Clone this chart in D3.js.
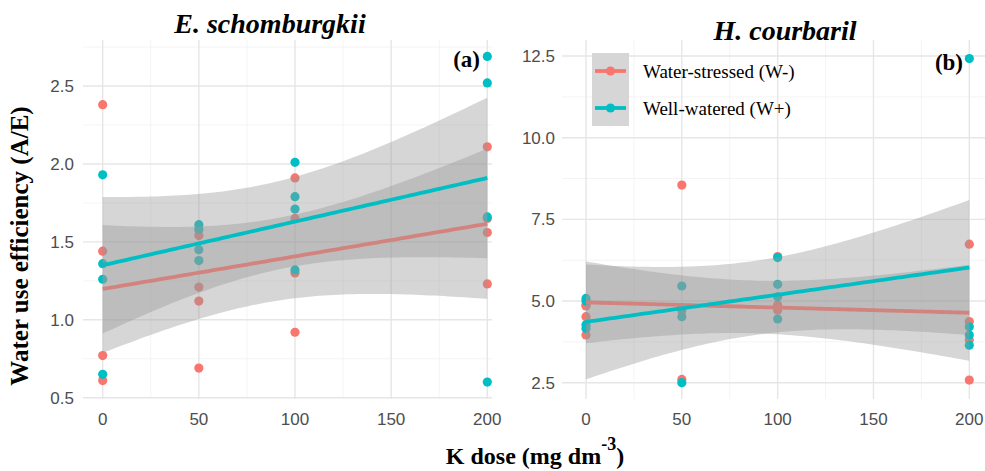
<!DOCTYPE html>
<html>
<head>
<meta charset="utf-8">
<script src="https://cdn.jsdelivr.net/npm/d3@7"></script>
<style>
  body { margin: 0; background: #fff; }
  svg { display: block; }
</style>
</head>
<body>
<svg id="chart" width="985" height="471"></svg>
<script>
// K doses applied (mg dm-3) and axis ticks
const doses = [0, 50, 100, 200];
const xTicks = [0, 50, 100, 150, 200];
const seriesNames = ["Water-stressed (W-)", "Well-watered (W+)"];
const seriesColors = ["#F8766D", "#00BFC4"];

// Water use efficiency (A/E), four plants per dose
const eschWminus = [[2.38, 1.44, 0.77, 0.61], [1.54, 1.21, 1.12, 0.69], [1.91, 1.65, 1.30, 0.92], [2.11, 1.65, 1.56, 1.23]];
const eschWplus  = [[1.93, 1.36, 1.26, 0.65], [1.61, 1.58, 1.45, 1.38], [2.01, 1.79, 1.71, 1.32], [2.69, 2.52, 1.66, 0.60]];
const hymWminus  = [[4.88, 4.85, 4.52, 3.96], [8.55, 4.80, 4.70, 2.60], [6.36, 4.88, 4.80, 4.72], [6.74, 4.37, 3.81, 2.58]];
const hymWplus   = [[5.08, 5.00, 4.27, 4.16], [5.46, 4.78, 4.52, 2.50], [6.33, 5.51, 5.13, 4.45], [12.42, 4.21, 3.96, 3.65]];

const eschYTicks = [0.5, 1.0, 1.5, 2.0, 2.5];
const hymYTicks = [2.5, 5.0, 7.5, 10.0, 12.5];

const svg = d3.select("#chart");
const serif = "'Liberation Serif', 'Times New Roman', serif";
const sans = "'Liberation Sans', Arial, sans-serif";

// flatten nested dose groups into {x, y} points
function toPoints(groups) {
  const pts = [];
  groups.forEach((vals, i) => vals.forEach(v => pts.push({ x: doses[i], y: v })));
  return pts;
}

// two-sided 95% t critical value (Cornish-Fisher expansion)
function tCrit(df) {
  const z = 1.959964;
  const z3 = z ** 3, z5 = z ** 5, z7 = z ** 7;
  return z + (z3 + z) / (4 * df)
    + (5 * z5 + 16 * z3 + 3 * z) / (96 * df * df)
    + (3 * z7 + 19 * z5 + 17 * z3 - 15 * z) / (384 * df ** 3);
}

// ordinary least squares fit with a 95% confidence band
function linearFit(pts) {
  const n = pts.length;
  const mx = d3.mean(pts, d => d.x), my = d3.mean(pts, d => d.y);
  const sxx = d3.sum(pts, d => (d.x - mx) ** 2);
  const sxy = d3.sum(pts, d => (d.x - mx) * (d.y - my));
  const b = sxy / sxx, a = my - b * mx;
  const s = Math.sqrt(d3.sum(pts, d => (d.y - a - b * d.x) ** 2) / (n - 2));
  const t = tCrit(n - 2);
  const xs = d3.range(0, 201, 2.5);
  return xs.map(x => {
    const fit = a + b * x;
    const se = s * Math.sqrt(1 / n + (x - mx) ** 2 / sxx);
    return { x, fit, lo: fit - t * se, hi: fit + t * se };
  });
}

function drawPanel(cfg) {
  const g = svg.append("g");
  const x = d3.scaleLinear().domain([0, 200]).range(cfg.xRange);
  const y = d3.scaleLinear().domain(cfg.yDomain).range(cfg.yRange);
  const [pl, pr, pt, pb] = cfg.panel;

  // minor grid
  const xMinor = d3.range(25, 200, 50);
  const yStep = cfg.yTicks[1] - cfg.yTicks[0];
  const yMinor = cfg.yTicks.map(v => v + yStep / 2).concat([cfg.yTicks[0] - yStep / 2])
    .filter(v => y(v) >= pt && y(v) <= pb);
  g.selectAll(".vminor").data(xMinor).join("line")
    .attr("x1", d => x(d)).attr("x2", d => x(d)).attr("y1", pt).attr("y2", pb)
    .attr("stroke", "#f1f1f1").attr("stroke-width", 0.8);
  g.selectAll(".hminor").data(yMinor).join("line")
    .attr("x1", pl).attr("x2", pr).attr("y1", d => y(d)).attr("y2", d => y(d))
    .attr("stroke", "#f1f1f1").attr("stroke-width", 0.8);
  // major grid
  g.selectAll(".vmajor").data(xTicks).join("line")
    .attr("x1", d => x(d)).attr("x2", d => x(d)).attr("y1", pt).attr("y2", pb)
    .attr("stroke", "#e6e6e6").attr("stroke-width", 1.4);
  g.selectAll(".hmajor").data(cfg.yTicks).join("line")
    .attr("x1", pl).attr("x2", pr).attr("y1", d => y(d)).attr("y2", d => y(d))
    .attr("stroke", "#e6e6e6").attr("stroke-width", 1.4);

  // y axis labels
  g.selectAll(".ylab").data(cfg.yTicks).join("text")
    .attr("x", cfg.yLabelX).attr("y", d => y(d)).attr("dy", "0.36em")
    .attr("text-anchor", "end").attr("font-family", sans).attr("font-size", 17)
    .attr("fill", "#4d4d4d").text(d => d3.format(".1f")(d));
  // x axis labels
  g.selectAll(".xlab").data(xTicks).join("text")
    .attr("x", d => x(d)).attr("y", 425)
    .attr("text-anchor", "middle").attr("font-family", sans).attr("font-size", 17)
    .attr("fill", "#4d4d4d").text(d => d);

  const series = cfg.series.map(toPoints);

  // raw observations
  series.forEach((pts, i) => {
    g.selectAll(null).data(pts).join("circle")
      .attr("cx", d => x(d.x)).attr("cy", d => y(d.y)).attr("r", 4.6)
      .attr("fill", seriesColors[i]);
  });

  // fitted lines with confidence ribbons
  series.forEach((pts, i) => {
    const fit = linearFit(pts);
    g.append("path").datum(fit)
      .attr("d", d3.area().x(d => x(d.x)).y0(d => y(d.lo)).y1(d => y(d.hi)))
      .attr("fill", "#999999").attr("fill-opacity", 0.4);
    g.append("path").datum(fit)
      .attr("d", d3.line().x(d => x(d.x)).y(d => y(d.fit)))
      .attr("fill", "none").attr("stroke", seriesColors[i]).attr("stroke-width", 3.8);
  });

  // panel tag
  g.append("text").attr("x", cfg.tag[1]).attr("y", cfg.tag[2])
    .attr("text-anchor", "end").attr("font-family", serif).attr("font-weight", "bold")
    .attr("font-size", 23).attr("fill", "#000").text(cfg.tag[0]);

  // species title
  g.append("text").attr("x", cfg.title[1]).attr("y", cfg.title[2])
    .attr("text-anchor", "middle").attr("font-family", serif).attr("font-weight", "bold")
    .attr("font-style", "italic").attr("font-size", 28).attr("fill", "#000").text(cfg.title[0]);

  return { g, x, y };
}

drawPanel({
  series: [eschWminus, eschWplus],
  yDomain: [0.5, 2.5], yRange: [397.7, 86], yTicks: eschYTicks,
  xRange: [102.7, 487.3], panel: [83, 492, 40, 399], yLabelX: 74,
  tag: ["(a)", 480, 67], title: ["E. schomburgkii", 270, 33]
});

drawPanel({
  series: [hymWminus, hymWplus],
  yDomain: [2.5, 12.5], yRange: [382.7, 56], yTicks: hymYTicks,
  xRange: [586, 969.3], panel: [562, 985, 40, 399], yLabelX: 555,
  tag: ["(b)", 963, 70], title: ["H. courbaril", 785, 40]
});

// legend inside the right panel
const lg = svg.append("g");
lg.append("rect").attr("x", 592).attr("y", 53).attr("width", 37).attr("height", 73)
  .attr("fill", "#d6d6d6");
seriesNames.forEach((name, i) => {
  const ky = 71 + i * 37;
  lg.append("line").attr("x1", 595).attr("x2", 626).attr("y1", ky).attr("y2", ky)
    .attr("stroke", seriesColors[i]).attr("stroke-width", 3.8);
  lg.append("circle").attr("cx", 610.5).attr("cy", ky).attr("r", 4.6).attr("fill", seriesColors[i]);
  lg.append("text").attr("x", 643).attr("y", ky + 6.5)
    .attr("font-family", serif).attr("font-size", 19).attr("fill", "#000").text(name);
});

// shared axis titles
svg.append("text")
  .attr("transform", "translate(28,246) rotate(-90)")
  .attr("text-anchor", "middle").attr("font-family", serif).attr("font-weight", "bold")
  .attr("font-size", 25).attr("fill", "#000").text("Water use efficiency (A/E)");

const xt = svg.append("text").attr("x", 535).attr("y", 464)
  .attr("text-anchor", "middle").attr("font-family", serif).attr("font-weight", "bold")
  .attr("font-size", 24).attr("fill", "#000");
xt.append("tspan").text("K dose (mg dm");
xt.append("tspan").attr("dy", -14).attr("font-size", 18).text("-3");
xt.append("tspan").attr("dy", 14).text(")");
</script>
</body>
</html>
